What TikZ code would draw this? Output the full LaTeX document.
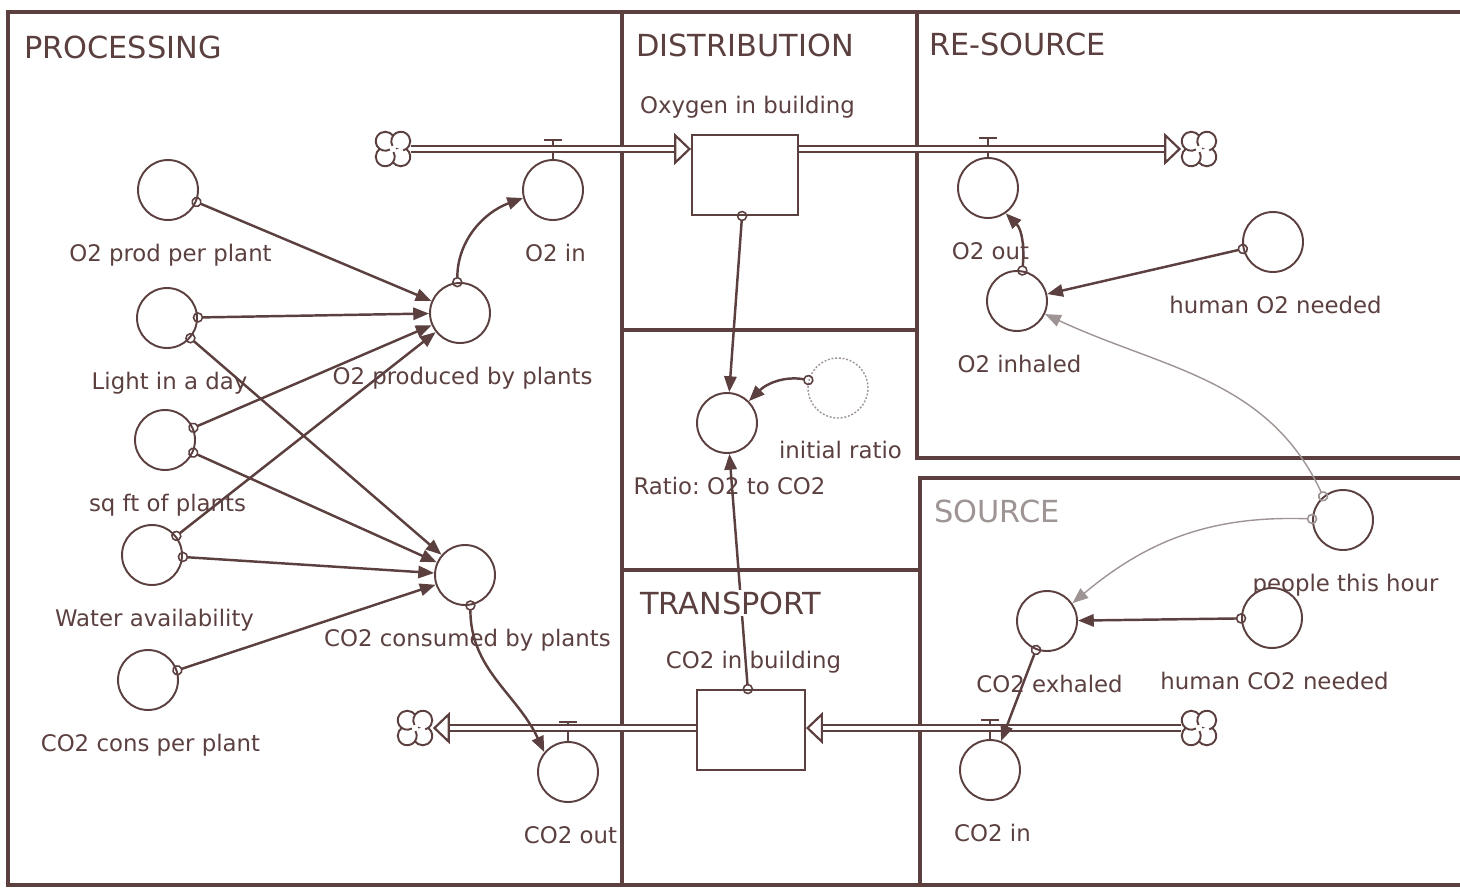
\documentclass[tikz,border=0pt]{standalone}
\usepackage{fontspec}
\setmainfont{DejaVu Sans}
\usepackage{tikz}
\usetikzlibrary{arrows.meta}
\usepackage{xcolor}
\definecolor{ink}{RGB}{92,64,64}
\definecolor{faint}{RGB}{158,148,148}
\frenchspacing

\tikzset{
  frame/.style = {draw=ink, line width=1.8pt},
  aux/.style = {circle, draw=ink, fill=white, line width=1.1pt, minimum size=1.2cm, inner sep=0pt},
  stock/.style = {rectangle, draw=ink, fill=white, line width=1.1pt, minimum height=1.6cm, inner sep=0pt},
  lbl/.style = {label={[yshift=-0.46cm]below:#1}},
  stocklbl/.style = {label={[yshift=0.3cm]above:#1}},
  sink/.style = {circle, minimum size=0.7cm, inner sep=0pt},
  pipe/.style = {draw=ink, line width=1.25pt, double=white, double distance=2.2pt, -{Triangle[fill=white, length=0.34cm, width=0.64cm]}},
  link/.style = {draw=ink, line width=1.4pt, shorten <=-3pt, {Circle[open, length=6pt, width=6pt, line width=0.9pt]}-{Triangle[length=9pt, width=7pt]}},
  greylink/.style = {link, draw=faint, line width=0.8pt},
  header/.style = {font=\fontsize{17.3}{20}\selectfont, text=ink, anchor=west, fill=white, inner sep=1pt},
  every label/.append style = {font=\fontsize{13}{15}\selectfont, text=ink, inner sep=0pt, text height=9.5pt, text depth=2.8pt, xshift=0.05cm},
  valve/.pic = {\draw[ink, line width=1pt] (0,0) -- (0,-19) (-9,-19) -- (9,-19);},
  cloudmark/.pic = {
    \foreach \a in {45,135,225,315}
      \draw[ink, line width=1.1pt, fill=white] ([shift={(\a:11)}]\a+195:9.5) arc[start angle=\a+195, delta angle=285, radius=9.5];
  }
}

\begin{document}
\begin{tikzpicture}[x=0.02cm, y=-0.02cm]
    \useasboundingbox (0,0) rectangle (1460,889);

    \draw[frame] (1460,12) -- (8,12) -- (8,885) -- (1460,885);
    \draw[frame] (622,12) -- (622,885);
    \draw[frame] (622,330) -- (917,330);
    \draw[frame] (917,12) -- (917,458) -- (1460,458);
    \draw[frame] (1460,478) -- (920,478) -- (920,885);
    \draw[frame] (622,570) -- (920,570);

    \node[aux, lbl=O2 prod per plant] (prod) at (168,190) {};
    \node[aux, lbl=Light in a day] (light) at (167,318) {};
    \node[aux, lbl=sq ft of plants] (sqft) at (165,440) {};
    \node[aux, lbl=Water availability] (water) at (152,555) {};
    \node[aux, lbl=CO2 cons per plant] (ccons) at (148,680) {};
    \node[aux, lbl=O2 produced by plants] (oprod) at (460,313) {};
    \node[aux, lbl=CO2 consumed by plants] (cconsd) at (465,575) {};
    \node[aux, lbl=O2 in] (o2in) at (553,190) {};
    \node[aux, lbl=CO2 out] (co2out) at (568,772) {};

    \node[stock, minimum width=2.12cm, stocklbl=Oxygen in building] (oxstock) at (745,175) {};
    \node[stock, minimum width=2.16cm, stocklbl=CO2 in building] (co2stock) at (751,730) {};
    \node[aux, lbl={Ratio: O2 to CO2}] (ratio) at (727,423) {};
    \node[aux, draw=faint, densely dotted, line width=0.8pt, lbl=initial ratio] (init) at (838,388) {};

    \node[aux, lbl=O2 out] (o2out) at (988,188) {};
    \node[aux, lbl=O2 inhaled] (o2inh) at (1017,301) {};
    \node[aux, lbl=human O2 needed] (humo2) at (1273,242) {};
    \node[aux, lbl=people this hour] (people) at (1343,520) {};
    \node[aux, lbl=CO2 exhaled] (co2exh) at (1047,621) {};
    \node[aux, lbl=human CO2 needed] (humco2) at (1272,618) {};
    \node[aux, lbl=CO2 in] (co2in) at (990,770) {};

    \node[sink] (oxsrc) at (393,149) {};
    \node[sink] (oxsink) at (1199,149) {};
    \node[sink] (cosrc) at (1199,728) {};
    \node[sink] (cosink) at (415,728) {};

    \pic at (o2in.north) {valve};
    \pic at (o2out.north) {valve};
    \pic at (co2out.north) {valve};
    \pic at (co2in.north) {valve};

    \draw[pipe] (oxsrc) -- (oxsrc -| oxstock.west);
    \draw[pipe] (oxsrc -| oxstock.east) -- (oxsink);
    \draw[pipe] (cosrc) -- (cosrc -| co2stock.east);
    \draw[pipe] (cosrc -| co2stock.west) -- (cosink);

    \pic at (oxsrc) {cloudmark};
    \pic at (oxsink) {cloudmark};
    \pic at (cosrc) {cloudmark};
    \pic at (cosink) {cloudmark};

    \draw[link] (prod) -- (oprod);
    \draw[link] (light) -- (oprod);
    \draw[link] (light) -- (cconsd);
    \draw[link] (sqft) -- (oprod);
    \draw[link] (sqft) -- (cconsd);
    \draw[link] (water) -- (oprod);
    \draw[link] (water) -- (cconsd);
    \draw[link] (ccons) -- (cconsd);
    \draw[link] (oprod.95) to[out=90,in=200] (o2in.195);
    \draw[link] (cconsd.-80) to[out=-90,in=115] (co2out.140);

    \draw[link] (oxstock) -- (ratio);
    \draw[link] (co2stock) -- (ratio);
    \draw[link] (init.165) to[out=170,in=45] (ratio.45);

    \draw[link] (o2inh.80) to[out=85,in=-45] (o2out.-55);
    \draw[link] (humo2) -- (o2inh);
    \draw[greylink] (people.130) to[out=115,in=-25] (o2inh.-25);
    \draw[greylink] (people.178) to[out=178,in=40] (co2exh.35);
    \draw[link] (humco2) -- (co2exh);
    \draw[link] (co2exh) -- (co2in);

    \node[header] (hdproc) at (22,47) {PROCESSING};
    \node[header] (hddist) at (634,45) {DISTRIBUTION};
    \node[header] (hdres) at (927,44) {RE-SOURCE};
    \node[header, text=faint] (hdsrc) at (932,511) {SOURCE};
    \node[header] (hdtrans) at (638,603) {TRANSPORT};
\end{tikzpicture}
\end{document}
